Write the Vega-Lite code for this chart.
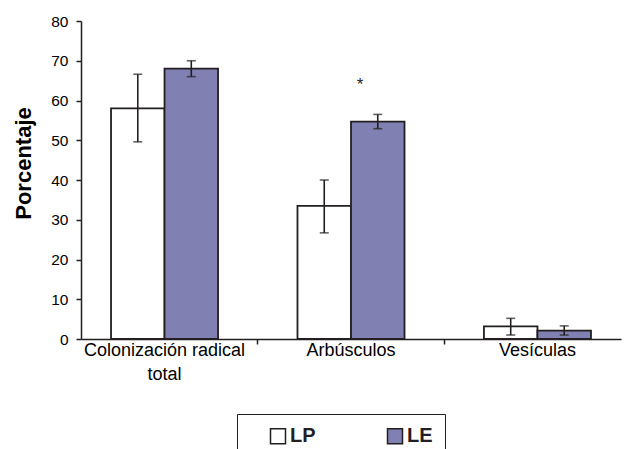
{
  "$schema": "https://vega.github.io/schema/vega-lite/v6.json",
  "width": 540,
  "height": 318,
  "autosize": {"type": "none"},
  "padding": {"left": 81, "top": 21, "right": 5, "bottom": 110},
  "background": "white",
  "config": {
    "view": {"stroke": null},
    "font": "Liberation Sans",
    "axis": {"domainColor": "#231F20", "tickColor": "#231F20", "labelColor": "#000000", "domainWidth": 1.5, "tickWidth": 1.5, "grid": false},
    "axisY": {"labelOverlap": false, "tickSize": 5, "labelFontSize": 15.5, "labelPadding": 8, "titleFontSize": 22, "titleFontWeight": "bold", "titleColor": "#000000", "titleX": -58, "titleY": 142, "titleBaseline": "middle", "titleAngle": -90}
  },
  "datasets": {
    "barras": [
      {"categoria": "Colonización radical total", "grupo": "LP", "valor": 58.0, "inf": 49.6, "sup": 66.6},
      {"categoria": "Colonización radical total", "grupo": "LE", "valor": 68.0, "inf": 66.0, "sup": 70.0},
      {"categoria": "Arbúsculos", "grupo": "LP", "valor": 33.5, "inf": 26.7, "sup": 40.0},
      {"categoria": "Arbúsculos", "grupo": "LE", "valor": 54.7, "inf": 52.9, "sup": 56.5},
      {"categoria": "Vesículas", "grupo": "LP", "valor": 3.2, "inf": 1.0, "sup": 5.2},
      {"categoria": "Vesículas", "grupo": "LE", "valor": 2.1, "inf": 1.0, "sup": 3.3}
    ],
    "marcas": [{"categoria": "Arbúsculos", "y": 62.6, "texto": "*"}]
  },
  "resolve": {"axis": {"x": "independent"}},
  "layer": [
    {
      "data": {"name": "barras"},
      "mark": {"type": "bar", "stroke": "#231F20", "strokeWidth": 1.8},
      "encoding": {
        "x": {
          "field": "categoria", "type": "nominal",
          "sort": ["Colonización radical total", "Arbúsculos", "Vesículas"],
          "scale": {"paddingInner": 0.426, "paddingOuter": 0.161},
          "axis": {"orient": "bottom", "title": null, "labelAngle": 0, "ticks": false, "domain": true, "labelFontSize": 18, "labelPadding": 2, "labelLineHeight": 24,
                   "labelExpr": "datum.value == 'Colonización radical total' ? ['Colonización radical', 'total'] : datum.value"}
        },
        "xOffset": {"field": "grupo", "type": "nominal", "sort": ["LP", "LE"], "scale": {"paddingInner": 0, "paddingOuter": 0}},
        "y": {
          "field": "valor", "type": "quantitative", "title": "Porcentaje",
          "scale": {"domain": [0, 80], "nice": false},
          "axis": {"values": [0, 10, 20, 30, 40, 50, 60, 70, 80], "tickCount": 12}
        },
        "fill": {
          "field": "grupo", "type": "nominal", "sort": ["LP", "LE"],
          "scale": {"domain": ["LP", "LE"], "range": ["#FFFFFF", "#8080B3"]},
          "legend": {"title": null, "orient": "none", "legendX": 156, "legendY": 393, "direction": "horizontal",
                     "strokeColor": "#231F20", "fillColor": "#FFFFFF", "padding": 12,
                     "symbolType": "square", "symbolSize": 225, "symbolStrokeColor": "#231F20", "symbolStrokeWidth": 1.5,
                     "symbolOffset": 19, "labelOffset": 2, "labelFontSize": 20, "labelFontWeight": "bold", "labelColor": "#231F20",
                     "columnPadding": 50}
        }
      }
    },
    {
      "data": {"name": "barras"},
      "mark": {"type": "rule", "color": "#231F20", "strokeWidth": 1.6},
      "encoding": {
        "x": {
          "field": "categoria", "type": "nominal",
          "sort": ["Colonización radical total", "Arbúsculos", "Vesículas"],
          "axis": {"orient": "bottom", "title": null, "labels": false, "domain": false, "values": ["Arbúsculos", "Vesículas"], "bandPosition": -0.37, "tickSize": 5}
        },
        "xOffset": {"field": "grupo", "type": "nominal", "sort": ["LP", "LE"]},
        "y": {"field": "inf", "type": "quantitative", "title": "Porcentaje", "axis": {"values": [0, 10, 20, 30, 40, 50, 60, 70, 80], "tickCount": 12}},
        "y2": {"field": "sup"}
      }
    },
    {
      "data": {"name": "barras"},
      "mark": {"type": "tick", "color": "#231F20", "size": 9, "thickness": 1.6},
      "encoding": {
        "x": {"field": "categoria", "type": "nominal", "sort": ["Colonización radical total", "Arbúsculos", "Vesículas"], "axis": null},
        "xOffset": {"field": "grupo", "type": "nominal", "sort": ["LP", "LE"]},
        "y": {"field": "inf", "type": "quantitative", "title": "Porcentaje", "axis": {"values": [0, 10, 20, 30, 40, 50, 60, 70, 80], "tickCount": 12}}
      }
    },
    {
      "data": {"name": "barras"},
      "mark": {"type": "tick", "color": "#231F20", "size": 9, "thickness": 1.6},
      "encoding": {
        "x": {"field": "categoria", "type": "nominal", "sort": ["Colonización radical total", "Arbúsculos", "Vesículas"], "axis": null},
        "xOffset": {"field": "grupo", "type": "nominal", "sort": ["LP", "LE"]},
        "y": {"field": "sup", "type": "quantitative", "title": "Porcentaje", "axis": {"values": [0, 10, 20, 30, 40, 50, 60, 70, 80], "tickCount": 12}}
      }
    },
    {
      "data": {"name": "marcas"},
      "mark": {"type": "text", "fontSize": 17, "color": "#231F20", "dx": 9, "baseline": "alphabetic"},
      "encoding": {
        "x": {"field": "categoria", "type": "nominal", "sort": ["Colonización radical total", "Arbúsculos", "Vesículas"], "axis": null},
        "y": {"field": "y", "type": "quantitative", "title": "Porcentaje", "axis": {"values": [0, 10, 20, 30, 40, 50, 60, 70, 80], "tickCount": 12}},
        "text": {"field": "texto"}
      }
    }
  ]
}
